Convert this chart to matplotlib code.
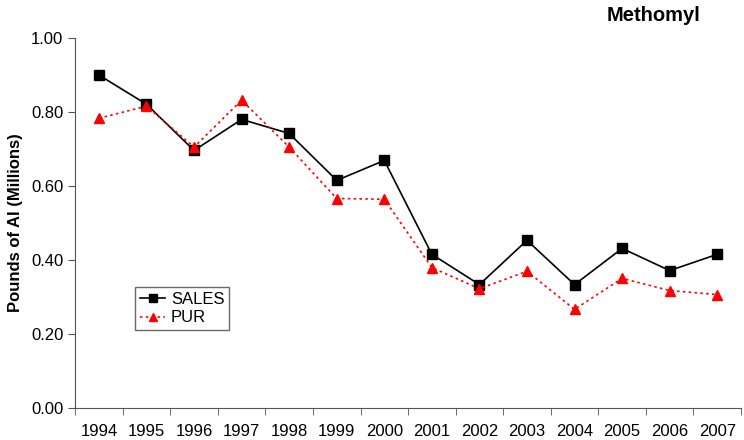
import matplotlib
matplotlib.use("Agg")
import matplotlib.pyplot as plt
import numpy as np

years = ["1994", "1995", "1996", "1997", "1998", "1999", "2000",
         "2001", "2002", "2003", "2004", "2005", "2006", "2007"]
sales = [0.90, 0.821, 0.696, 0.78, 0.742, 0.615, 0.669,
         0.415, 0.333, 0.453, 0.333, 0.431, 0.371, 0.415]
pur = [0.783, 0.816, 0.705, 0.832, 0.705, 0.566, 0.564,
       0.379, 0.322, 0.369, 0.266, 0.35, 0.317, 0.306]

plt.rcParams['font.family'] = ['Liberation Sans', 'DejaVu Sans']

fig = plt.figure(figsize=(7.44, 4.4), dpi=100)
ax = fig.add_axes([0.101, 0.0734, 0.895, 0.840])

x = np.arange(len(years))
ax.plot(x, sales, color='black', lw=1.2, marker='s', markersize=6.5, label='SALES')
ax.plot(x, pur, color='red', lw=1.2, ls=(0, (1.5, 2)), marker='^', markersize=7,
        label='PUR')

ax.set_xlim(-0.5, len(years) - 0.5)
ax.set_ylim(0, 1.0)
ax.set_yticks(np.arange(0, 1.01, 0.2))
ax.set_yticklabels([f"{v:.2f}" for v in np.arange(0, 1.01, 0.2)], fontsize=12)
ax.set_xticks(x)
ax.set_xticklabels(years, fontsize=12)
ax.tick_params(axis='x', which='major', length=0, pad=12)
ax.set_xticks(np.arange(-0.5, len(years), 1.0), minor=True)
ax.tick_params(axis='x', which='minor', length=5, direction='out', color='#555555')
ax.tick_params(axis='y', length=5, direction='out', color='#555555')

for s in ['top', 'right']:
    ax.spines[s].set_visible(False)
for s in ['left', 'bottom']:
    ax.spines[s].set_color('#555555')

ax.set_ylabel('Pounds of AI (Millions)', fontsize=12, fontweight='bold', labelpad=6)

fig.text(0.815, 0.965, 'Methomyl', fontsize=14.5, fontweight='bold', va='center', ha='left')

leg = ax.legend(loc='upper left', bbox_to_anchor=(135/744, 1 - 287/440),
                bbox_transform=fig.transFigure, frameon=True, fancybox=False,
                fontsize=12, handlelength=1.5, borderpad=0.3, labelspacing=0.2,
                handletextpad=0.35, borderaxespad=0, markerscale=0.8)
leg.get_frame().set_edgecolor('#444444')
leg.get_frame().set_linewidth(1.0)

fig.savefig('out.png', dpi=100)
